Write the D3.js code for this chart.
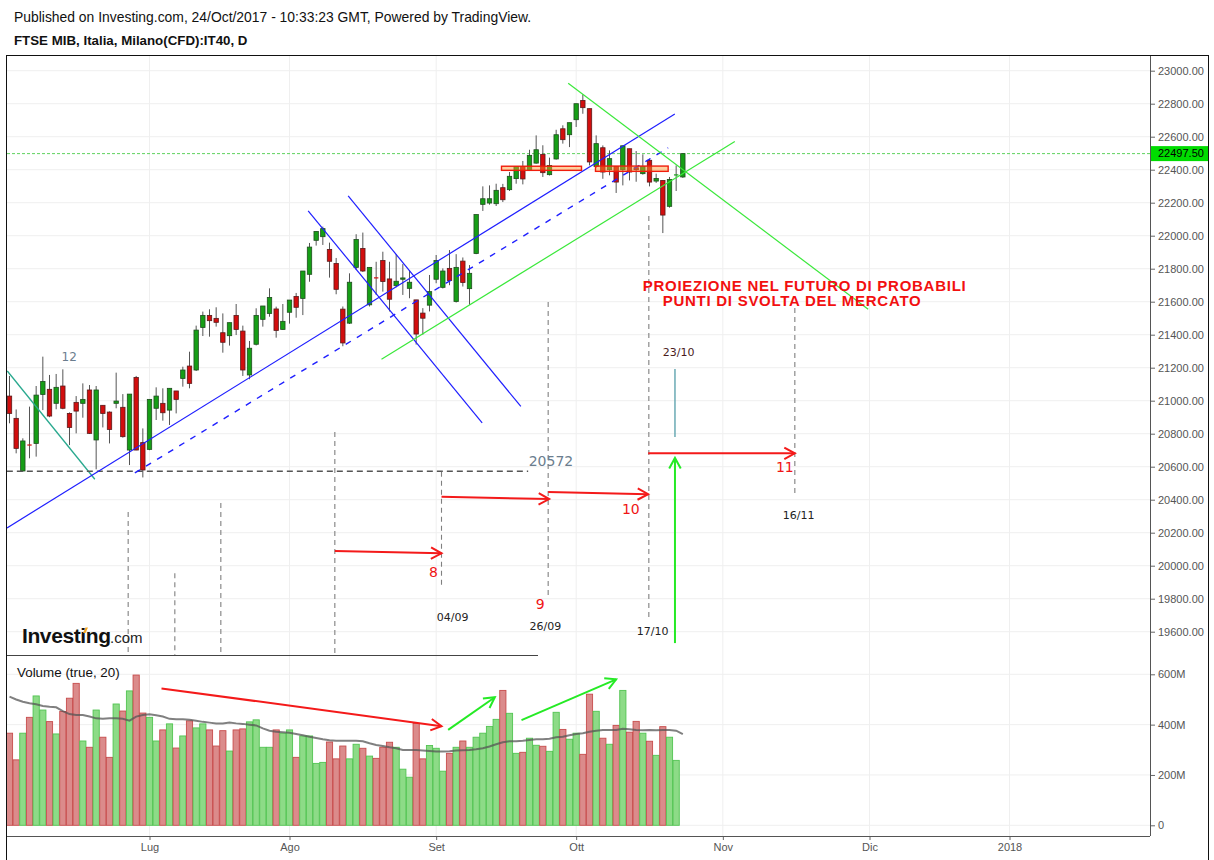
<!DOCTYPE html>
<html><head><meta charset="utf-8">
<script src="https://cdnjs.cloudflare.com/ajax/libs/d3/7.8.5/d3.min.js"></script>
<style>
html,body{margin:0;padding:0;background:#fff;}
svg{display:block;}
text{font-family:"Liberation Sans",Arial,sans-serif;}
</style></head><body>
<svg id="c" width="1214" height="860"></svg>
<script>
// ---------------- DATA ----------------
// daily candles, bar index 0 = 2 Jun 2017 ... 101 = 24 Oct 2017
const open  = [21028,20893,20574,20735,20741,21038,21069,20984,21089,20923,20990,20984,21065,20762,20972,20931,20984,20960,20701,21141,20746,20705,20954,20984,20943,21059,21135,21210,21186,21444,21517,21499,21412,21394,21517,21422,21156,21342,21493,21529,21556,21432,21536,21632,21620,21766,21972,21994,21917,21832,21555,21470,21808,21923,21581,21748,21850,21738,21697,21736,21681,21611,21531,21579,21736,21687,21802,21601,21846,21679,21892,22190,22198,22194,22291,22279,22346,22420,22396,22440,22493,22370,22465,22648,22612,22703,22820,22770,22420,22533,22400,22420,22400,22527,22412,22376,22457,22331,22335,22178,22368,22356];
const high  = [21150,20947,20772,20964,21089,21267,21156,21162,21190,20929,21028,21105,21095,21089,20972,20935,21170,21040,21040,21150,20832,21008,21081,21075,21075,21059,21206,21297,21455,21540,21554,21566,21529,21473,21586,21455,21362,21560,21574,21681,21570,21586,21610,21653,21786,21956,22026,22055,21958,21865,21571,21772,22009,22019,21808,21842,21903,21842,21888,21828,21792,21611,21561,21762,21883,21802,21913,21888,21868,21822,22128,22299,22305,22315,22314,22386,22420,22453,22521,22608,22548,22473,22642,22669,22685,22800,22857,22770,22608,22547,22517,22420,22545,22527,22513,22493,22467,22376,22335,22356,22426,22497.5];
const low   = [20863,20681,20570,20651,20661,20943,20900,20948,20948,20731,20802,20897,20798,20584,20838,20741,20954,20776,20610,20700,20535,20700,20883,20879,20853,20923,21085,21075,21180,21392,21388,21449,21291,21334,21398,21150,21130,21335,21449,21509,21382,21430,21467,21503,21519,21721,21940,21944,21746,21645,21330,21465,21792,21780,21571,21641,21661,21541,21687,21641,21621,21340,21400,21541,21712,21680,21700,21595,21692,21581,21888,22150,22188,22180,22204,22271,22315,22311,22392,22436,22356,22365,22461,22558,22537,22659,22739,22426,22412,22345,22366,22259,22305,22335,22327,22370,22299,22320,22016,22170,22271,22350];
const close = [20923,20711,20756,20733,21034,21117,20907,21081,20954,20838,20937,21008,20802,21065,20923,20826,20998,20782,21040,20701,20580,21008,21028,20927,21075,21008,21186,21105,21428,21517,21485,21475,21354,21473,21432,21186,21318,21517,21574,21626,21426,21481,21610,21566,21786,21931,22026,22043,21845,21675,21350,21718,21977,21786,21808,21744,21722,21615,21724,21744,21718,21404,21500,21661,21850,21786,21728,21808,21716,21772,22128,22224,22224,22275,22218,22360,22420,22344,22487,22521,22382,22426,22612,22582,22685,22800,22776,22447,22558,22386,22467,22325,22545,22386,22400,22420,22325,22347,22125,22341,22372,22497.5];
// volume (millions) and its 20-day average
const volume = [366,260,366,429,514,458,412,363,452,505,564,335,310,458,350,270,482,454,534,597,446,429,335,379,403,307,355,415,387,403,379,315,376,295,379,383,411,419,310,310,379,366,379,270,355,355,246,250,331,264,315,264,322,306,275,266,310,330,310,223,191,405,264,317,306,215,286,310,335,310,350,366,393,421,536,445,286,290,346,318,314,294,449,381,342,366,282,521,453,346,322,397,536,370,413,366,334,278,392,350,258,0];
const volumeMA = [511,500,491,485,481,474,471,469,454,442,438,438,432,425,423,425,425,423,416,432,438,441,437,432,423,421,421,419,415,411,408,405,405,408,405,403,400,397,385,376,372,370,368,363,358,352,347,342,338,336,336,336,336,334,326,319,315,310,306,299,299,299,297,295,293,293,294,297,298,299,302,306,313,322,330,334,334,336,339,342,342,344,350,352,358,363,366,372,376,379,379,379,384,382,379,378,379,378,379,379,376,362];
const lastPrice = 22497.5;
const priceTicks = [19600,19800,20000,20200,20400,20600,20800,21000,21200,21400,21600,21800,22000,22200,22400,22600,22800,23000];
const volumeTicks = [0,200,400,600];
const monthIndex  = [21,42,64,85,107,129,150];
const monthLabels = ["Lug","Ago","Set","Ott","Nov","Dic","2018"];

// user drawings, in (bar index, price) coordinates
const tealLine = [[-0.33,21180],[12.8,20524]];
const supportLevel = 20572, supportSpan = [-0.4,77.8];
const blueLines = [[[-0.375,20229],[99.8,22737]],[[44.8,22151],[70.9,20865]],[[50.8,22241],[76.7,20965]]];
const blueDashed = [[18.8,20562],[98.8,22533]];
const greenLines = [[[55.8,21251],[108.8,22571]],[[83.8,22924],[128.8,21554]]];
const zones = [[73.8,85.8,22396,22421],[87.9,98.8,22390,22422]];
const cycleMarkers = [[17.8,20325,19459],[24.8,19955,19459],[31.7,20380,19459],[48.8,20810,19459],[64.8,20570,19883],[80.8,21598,19810],[95.9,22119,19671],[117.8,21562,20440]];
const redArrows = [[[48.8,20089],[64.8,20075]],[[64.8,20418],[80.95,20404]],[[80.8,20447],[95.8,20433]],[[95.8,20681],[117.8,20681]]];
const greenUpArrow = [[99.82,19531],[99.82,20653]];
const tealMark = [[99.82,21192],[99.82,20780]];
const cycleNumbers = [["8",63.6,19962],["9",79.6,19768],["10",93.2,20344],["11",116.3,20598]];
const dateLabels = [["04/09",64.1,19686],["26/09",78.0,19635],["17/10",94.1,19604],["23/10",98.0,21295],["16/11",116.0,20307]];
const countLabel = ["12",8.95,21264];
const volRedArrow = [[22.8,544],[64.8,394]];
const volGreenArrows = [[[65.8,379],[72.8,509]],[[76.8,418],[91.0,580]]];
const projectionText = [["PROIEZIONE NEL FUTURO DI PROBABILI",94.98,21662],["PUNTI DI SVOLTA DEL MERCATO",97.98,21572]];

// ---------------- LAYOUT ----------------
const svg = d3.select("#c");
const L = 7, R = 1150, T = 55, PB = 655, VB = 836;
const x  = d3.scaleLinear().domain([0,150]).range([9.5,1009.5]);
const yP = d3.scaleLinear().domain([19600,23000]).range([631.7,70.7]);
const yV = d3.scaleLinear().domain([0,600]).range([825.3,674.3]);

const defs = svg.append("defs");
defs.append("clipPath").attr("id","cp").append("rect").attr("x",L).attr("y",T).attr("width",R-L).attr("height",PB-T);
defs.append("clipPath").attr("id","cv").append("rect").attr("x",L).attr("y",PB).attr("width",R-L).attr("height",VB-PB);

// header
svg.append("text").attr("x",14).attr("y",22).attr("font-size",13.9).attr("fill","#111")
  .text("Published on Investing.com, 24/Oct/2017 - 10:33:23 GMT, Powered by TradingView.");
svg.append("text").attr("x",14).attr("y",45).attr("font-size",13.3).attr("font-weight","bold").attr("fill","#111")
  .text("FTSE MIB, Italia, Milano(CFD):IT40, D");

// grid
const grid = svg.append("g");
grid.selectAll("line.hp").data(priceTicks).join("line")
  .attr("x1",L).attr("x2",R).attr("y1",d=>yP(d)).attr("y2",d=>yP(d)).attr("stroke","#efefef");
grid.selectAll("line.hv").data(volumeTicks).join("line")
  .attr("x1",L).attr("x2",R).attr("y1",d=>yV(d)).attr("y2",d=>yV(d)).attr("stroke","#efefef");
grid.selectAll("line.vm").data(monthIndex).join("line")
  .attr("x1",d=>x(d)).attr("x2",d=>x(d)).attr("y1",T).attr("y2",VB).attr("stroke","#efefef");

// price pane
const gP = svg.append("g").attr("clip-path","url(#cp)");
const idx = d3.range(open.length);
const up = i => close[i] >= open[i];

// current price line
gP.append("line").attr("x1",L).attr("x2",R).attr("y1",yP(lastPrice)).attr("y2",yP(lastPrice))
  .attr("stroke","#5fd35f").attr("stroke-dasharray","3,2");

// candles
gP.selectAll("line.wick").data(idx).join("line")
  .attr("x1",i=>x(i)).attr("x2",i=>x(i)).attr("y1",i=>yP(high[i])).attr("y2",i=>yP(low[i]))
  .attr("stroke","#555").attr("stroke-width",1);
gP.selectAll("rect.body").data(idx).join("rect")
  .attr("x",i=>x(i)-2.2).attr("width",4.4)
  .attr("y",i=>yP(Math.max(open[i],close[i])))
  .attr("height",i=>Math.max(1.2,Math.abs(yP(open[i])-yP(close[i]))))
  .attr("fill",i=>up(i)?"#169e16":"#d20e0e")
  .attr("stroke",i=>Math.abs(open[i]-close[i])<8?"none":(up(i)?"#1f4d1f":"#5a1a1a"))
  .attr("stroke-width",0.8);

// drawings
const seg = (g,a,b) => g.append("line").attr("x1",x(a[0])).attr("y1",yP(a[1])).attr("x2",x(b[0])).attr("y2",yP(b[1]));
seg(gP,tealLine[0],tealLine[1]).attr("stroke","#2aa98f").attr("stroke-width",1.3);
gP.append("line").attr("x1",x(supportSpan[0])).attr("x2",x(supportSpan[1]))
  .attr("y1",yP(supportLevel)).attr("y2",yP(supportLevel))
  .attr("stroke","#555").attr("stroke-width",1.5).attr("stroke-dasharray","6,4");
blueLines.forEach(l=>seg(gP,l[0],l[1]).attr("stroke","#1f1fff").attr("stroke-width",1.2));
seg(gP,blueDashed[0],blueDashed[1]).attr("stroke","#1f1fff").attr("stroke-width",1.4).attr("stroke-dasharray","6,7");
greenLines.forEach(l=>seg(gP,l[0],l[1]).attr("stroke","#3be83b").attr("stroke-width",1.2));
gP.selectAll("rect.zone").data(zones).join("rect")
  .attr("x",d=>x(d[0])).attr("width",d=>x(d[1])-x(d[0]))
  .attr("y",d=>yP(d[3])).attr("height",d=>yP(d[2])-yP(d[3]))
  .attr("fill","rgba(255,150,40,0.45)").attr("stroke","#f01d0d").attr("stroke-width",1.4);
gP.selectAll("line.cyc").data(cycleMarkers).join("line")
  .attr("x1",d=>x(d[0])).attr("x2",d=>x(d[0])).attr("y1",d=>yP(d[1])).attr("y2",d=>yP(d[2]))
  .attr("stroke","#808080").attr("stroke-width",1.1).attr("stroke-dasharray","5,4");
seg(gP,tealMark[0],tealMark[1]).attr("stroke","#6aaab4").attr("stroke-width",1.5);

function arrow(g,x1,y1,x2,y2,color){
  g.append("line").attr("x1",x1).attr("y1",y1).attr("x2",x2).attr("y2",y2)
    .attr("stroke",color).attr("stroke-width",2);
  const a = Math.atan2(y2-y1,x2-x1), len = 12, sp = 0.5;
  const p1 = [x2-len*Math.cos(a-sp), y2-len*Math.sin(a-sp)];
  const p2 = [x2-len*Math.cos(a+sp), y2-len*Math.sin(a+sp)];
  g.append("path").attr("d",`M${p1[0]},${p1[1]}L${x2},${y2}L${p2[0]},${p2[1]}`)
    .attr("fill","none").attr("stroke",color).attr("stroke-width",2);
}
redArrows.forEach(a=>arrow(gP,x(a[0][0]),yP(a[0][1]),x(a[1][0]),yP(a[1][1]),"#f41a1a"));
arrow(gP,x(greenUpArrow[0][0]),yP(greenUpArrow[0][1]),x(greenUpArrow[1][0]),yP(greenUpArrow[1][1]),"#25ea25");

// texts in price pane
gP.selectAll("text.num").data(cycleNumbers).join("text")
  .attr("x",d=>x(d[1])).attr("y",d=>yP(d[2])).attr("dy","0.36em").attr("text-anchor","middle")
  .style("font-family","'DejaVu Sans',Verdana,sans-serif").attr("font-size",14).attr("fill","#f01515").text(d=>d[0]);
gP.selectAll("text.date").data(dateLabels).join("text")
  .attr("x",d=>x(d[1])).attr("y",d=>yP(d[2])).attr("dy","0.36em")
  .style("font-family","'DejaVu Sans',Verdana,sans-serif").attr("font-size",11)
  .attr("fill",d=>d[0]==="23/10"?"#4a1c1c":"#222").text(d=>d[0]);
gP.append("text").attr("x",x(countLabel[1])).attr("y",yP(countLabel[2])).attr("dy","0.36em").attr("text-anchor","middle")
  .style("font-family","'DejaVu Sans',Verdana,sans-serif").attr("font-size",12).attr("fill","#6b7d8e").text(countLabel[0]);
gP.append("text").attr("x",x(supportSpan[1])+0.5).attr("y",yP(20635)).attr("dy","0.36em")
  .style("font-family","'DejaVu Sans',Verdana,sans-serif").attr("font-size",14).attr("fill","#6b7d8e").text(String(supportLevel));
gP.selectAll("text.proj").data(projectionText).join("text")
  .attr("x",d=>x(d[1])).attr("y",d=>yP(d[2])).attr("font-size",15).attr("font-weight","bold")
  .attr("textLength",(d,i)=>i===0?323:258).attr("lengthAdjust","spacing")
  .attr("fill","#f21010").text(d=>d[0]);

// Investing.com logo
const logo = svg.append("g");
logo.append("text").attr("x",22).attr("y",643).attr("font-size",21).attr("font-weight","bold")
  .attr("fill","#111").attr("letter-spacing","-0.4").text("Investing");
logo.append("text").attr("x",110).attr("y",643).attr("font-size",15).attr("fill","#222").text(".com");
logo.append("path").attr("d","M83,633 L85.5,627.5 L88,627.5 L85.5,633 Z").attr("fill","#f5a623");

// volume pane
const gV = svg.append("g").attr("clip-path","url(#cv)");
gV.selectAll("rect.vol").data(idx.filter(i=>volume[i]>0)).join("rect")
  .attr("x",i=>x(i)-3.1).attr("width",6.2)
  .attr("y",i=>yV(volume[i])).attr("height",i=>yV(0)-yV(volume[i]))
  .attr("fill",i=>up(i)?"#8ddb87":"#db8b8b")
  .attr("stroke",i=>up(i)?"#52c452":"#c74c4c").attr("stroke-width",0.9);
gV.append("path").datum(volumeMA)
  .attr("d",d3.line().x((d,i)=>x(i)).y(d=>yV(d)))
  .attr("fill","none").attr("stroke","#555").attr("stroke-opacity",0.75).attr("stroke-width",2);
arrow(gV,x(volRedArrow[0][0]),yV(volRedArrow[0][1]),x(volRedArrow[1][0]),yV(volRedArrow[1][1]),"#f41a1a");
volGreenArrows.forEach(a=>arrow(gV,x(a[0][0]),yV(a[0][1]),x(a[1][0]),yV(a[1][1]),"#25ea25"));
svg.append("text").attr("x",17).attr("y",677).attr("font-size",13.4).attr("fill","#111").text("Volume (true, 20)");

// pane separator
svg.append("line").attr("x1",L).attr("x2",538).attr("y1",PB+0.5).attr("y2",PB+0.5).attr("stroke","#444");

// axes
const axP = svg.append("g").attr("transform",`translate(${R},0)`)
  .call(d3.axisRight(yP).tickValues(priceTicks).tickFormat(d=>d.toFixed(2)).tickSize(5).tickPadding(3));
const axV = svg.append("g").attr("transform",`translate(${R},0)`)
  .call(d3.axisRight(yV).tickValues(volumeTicks).tickFormat(d=>d===0?"0":d+"M").tickSize(5).tickPadding(3));
const axX = svg.append("g").attr("transform",`translate(0,${VB})`)
  .call(d3.axisBottom(x).tickValues(monthIndex).tickFormat((d,i)=>monthLabels[i]).tickSize(4).tickPadding(3));
[axP,axV,axX].forEach(a=>{
  a.select(".domain").remove();
  a.selectAll("line").attr("stroke","#666");
  a.selectAll("text").attr("fill","#555").attr("font-size",11).style("font-family","'Liberation Sans',Arial,sans-serif");
});

// last price label
svg.append("rect").attr("x",R+1).attr("y",yP(lastPrice)-7.5).attr("width",57).attr("height",15).attr("fill","#00dc00");
svg.append("text").attr("x",R+8).attr("y",yP(lastPrice)).attr("dy","0.34em").attr("font-size",11).attr("fill","#000")
  .text(lastPrice.toFixed(2));

// frame lines
svg.append("line").attr("x1",R+0.5).attr("x2",R+0.5).attr("y1",T).attr("y2",VB).attr("stroke","#555");
svg.append("line").attr("x1",L).attr("x2",R).attr("y1",VB+0.5).attr("y2",VB+0.5).attr("stroke","#555");
svg.append("rect").attr("x",6.5).attr("y",T+0.5).attr("width",1202).attr("height",806)
  .attr("fill","none").attr("stroke","#111");
</script>
</body></html>
